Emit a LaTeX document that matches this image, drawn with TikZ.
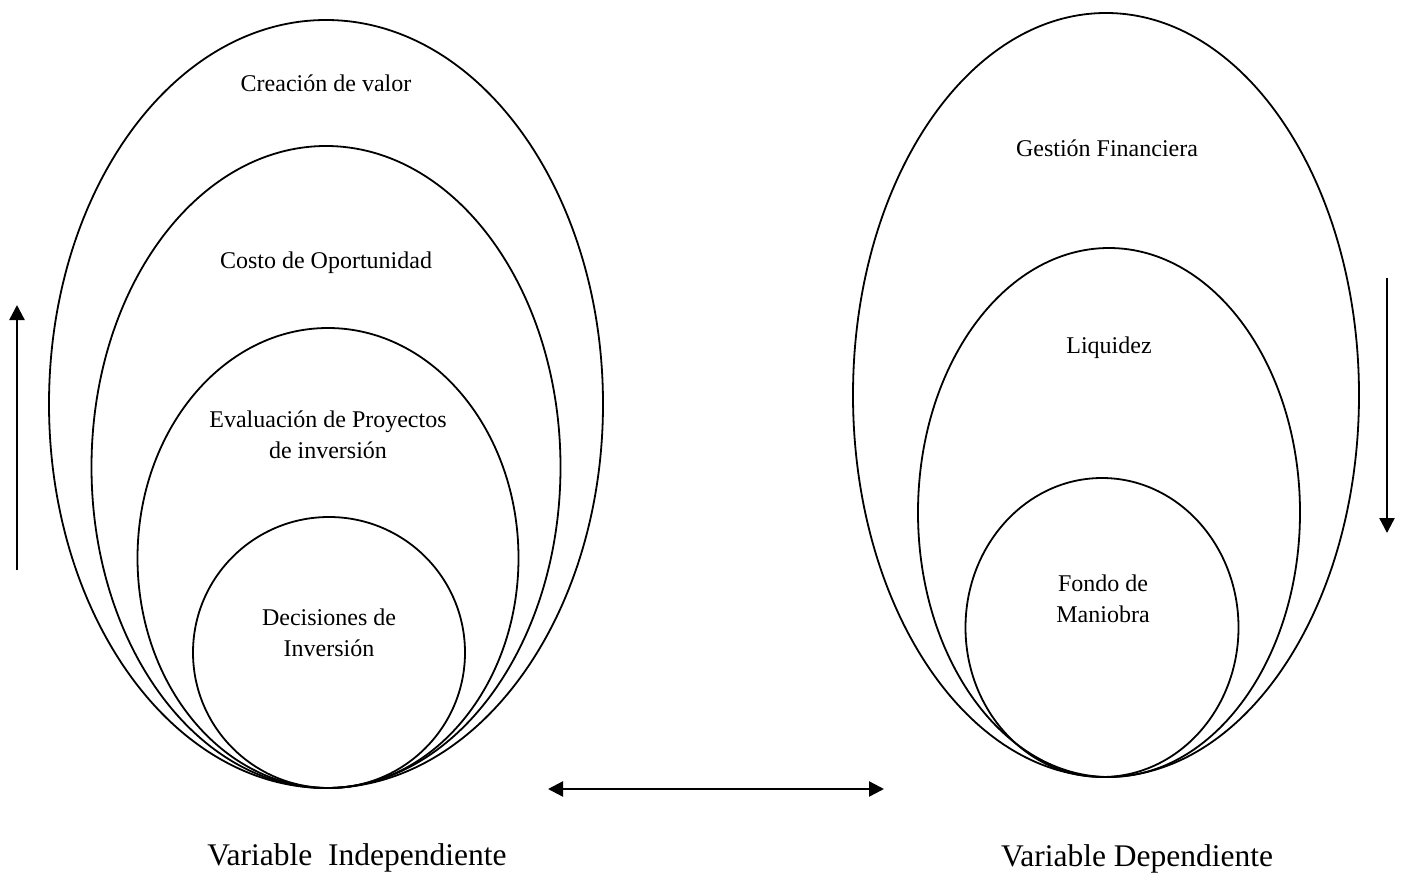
\documentclass[tikz,border=0pt]{standalone}
\usepackage{fontspec}
\setmainfont{Liberation Serif}
\usetikzlibrary{shapes.geometric,arrows.meta}

\tikzset{
  ring/.style={draw=black, line width=1.8pt, shape=ellipse, inner sep=0pt, minimum width=#1},
  lbl/.style={font=\fontsize{24}{31.5}\selectfont, align=center, inner sep=0pt},
  biglbl/.style={font=\fontsize{31.5}{38}\selectfont, inner sep=0pt, anchor=base},
  flow/.style={line width=2.4pt, -{Triangle[length=15pt,width=15pt]}},
  flowboth/.style={line width=2.4pt, {Triangle[length=15pt,width=15pt]}-{Triangle[length=15pt,width=15pt]}}
}

\begin{document}
\begin{tikzpicture}[x=1pt,y=-1pt]
  \useasboundingbox (0,0) rectangle (1406,875);

  % independent variable: nested ellipses touching at the bottom
  \node[ring=554pt, minimum height=768pt] (ca) at (326,404) {};
  \node[ring=469pt, minimum height=642pt] (co) at (326,467) {};
  \node[ring=381pt, minimum height=460pt] (ep) at (328,558) {};
  \node[ring=272pt, minimum height=271pt] (di) at (329,652.5) {};

  \node[lbl] (tca) at (326,83) {Creación de valor};
  \node[lbl] (tco) at (326,263) {Costo de Oportunidad};
  \node[lbl] (tep) at (328,435) {Evaluación de Proyectos\\de inversión};
  \node[lbl] (tdi) at (329,633) {Decisiones de\\Inversión};

  % dependent variable: nested ellipses touching at the bottom
  \node[ring=506pt, minimum height=764pt] (gf) at (1106,395) {};
  \node[ring=382pt, minimum height=529pt] (lq) at (1109,512.5) {};
  \node[ring=273pt, minimum height=299pt] (fm) at (1102,627.5) {};

  \node[lbl] (tgf) at (1107,148) {Gestión Financiera};
  \node[lbl] (tlq) at (1109,348) {Liquidez};
  \node[lbl] (tfm) at (1103,599) {Fondo de\\Maniobra};

  % variable captions
  \node[biglbl] (vi) at (357,865) {Variable~~Independiente};
  \node[biglbl] (vd) at (1137,866) {Variable Dependiente};

  % direction arrows
  \coordinate (upA) at (17,570);
  \coordinate (upB) at (17,305);
  \coordinate (dnA) at (1387,278);
  \coordinate (dnB) at (1387,533);
  \coordinate (hA) at (548,789);
  \coordinate (hB) at (884,789);
  \draw[flow] (upA) -- (upB);
  \draw[flow] (dnA) -- (dnB);
  \draw[flowboth] (hA) -- (hB);
\end{tikzpicture}
\end{document}
